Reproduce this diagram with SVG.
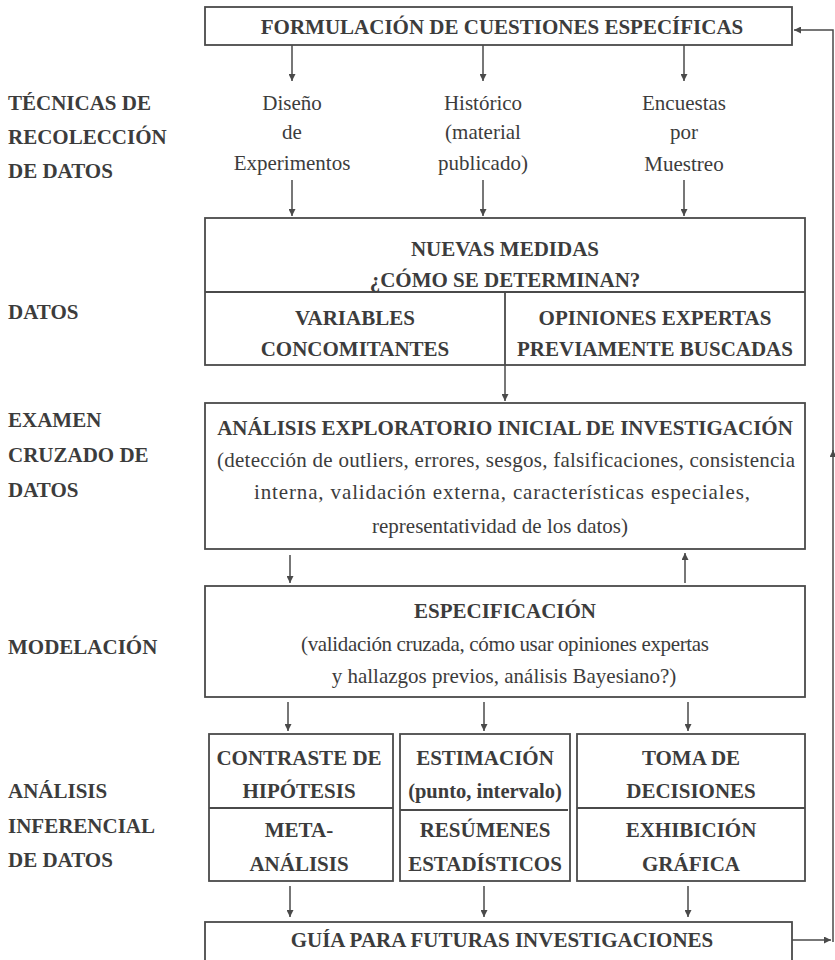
<svg xmlns="http://www.w3.org/2000/svg" width="835" height="960" viewBox="0 0 835 960">
<defs>
<marker id="ah" viewBox="0 0 10 10" refX="10" refY="5" markerWidth="7" markerHeight="7" markerUnits="userSpaceOnUse" orient="auto">
<path d="M0,0 L10,5 L0,10 z" fill="#4a4a4a"/>
</marker>
<style>
.b{font-weight:bold;font-size:21px}
.r{font-size:21px}
.c{text-anchor:middle}
.box{fill:#fff;stroke:#4a4a4a;stroke-width:1.8}
.div{stroke:#4a4a4a;stroke-width:1.8;fill:none}
.con{stroke:#4a4a4a;stroke-width:1.5;fill:none;marker-end:url(#ah)}
</style>
</defs>
<rect width="835" height="960" fill="#fff"/>
<g font-family="Liberation Serif, DejaVu Serif, Times New Roman, serif" fill="#3c3c3c">
<g id="labels">
<text class="b" x="8" y="110">TÉCNICAS DE</text>
<text class="b" x="8" y="144">RECOLECCIÓN</text>
<text class="b" x="8" y="178">DE DATOS</text>
<text class="b" x="8" y="319">DATOS</text>
<text class="b" x="8" y="427">EXAMEN</text>
<text class="b" x="8" y="462">CRUZADO DE</text>
<text class="b" x="8" y="497">DATOS</text>
<text class="b" x="8" y="654">MODELACIÓN</text>
<text class="b" x="8" y="798">ANÁLISIS</text>
<text class="b" x="8" y="833">INFERENCIAL</text>
<text class="b" x="8" y="867">DE DATOS</text>
</g>

<g id="formulacion">
<rect class="box" x="205" y="7" width="587" height="38"/>
<text class="b c" x="502" y="34">FORMULACIÓN DE CUESTIONES ESPECÍFICAS</text>
</g>

<g id="diseno">
<text class="r c" x="292" y="110">Diseño</text>
<text class="r c" x="292" y="139">de</text>
<text class="r c" x="292" y="170">Experimentos</text>
</g>
<g id="historico">
<text class="r c" x="483" y="110">Histórico</text>
<text class="r c" x="483" y="139">(material</text>
<text class="r c" x="483" y="170">publicado)</text>
</g>
<g id="encuestas">
<text class="r c" x="684" y="110">Encuestas</text>
<text class="r c" x="684" y="139">por</text>
<text class="r c" x="684" y="171">Muestreo</text>
</g>

<g id="nuevas">
<rect class="box" x="205" y="218" width="600" height="147"/>
<line class="div" x1="205" y1="292" x2="805" y2="292"/>
<line class="div" x1="505" y1="292" x2="505" y2="365"/>
<text class="b c" x="505" y="256">NUEVAS MEDIDAS</text>
<text class="b c" x="505" y="287">¿CÓMO SE DETERMINAN?</text>
<text class="b c" x="355" y="325">VARIABLES</text>
<text class="b c" x="355" y="356">CONCOMITANTES</text>
<text class="b c" x="655" y="325">OPINIONES EXPERTAS</text>
<text class="b c" x="655" y="356">PREVIAMENTE BUSCADAS</text>
</g>

<g id="analisis">
<rect class="box" x="205" y="403" width="600" height="146"/>
<text class="b c" x="505" y="435">ANÁLISIS EXPLORATORIO INICIAL DE INVESTIGACIÓN</text>
<text class="r c" x="506" y="467" textLength="578" lengthAdjust="spacing">(detección de outliers, errores, sesgos, falsificaciones, consistencia</text>
<text class="r c" x="502" y="499" textLength="496" lengthAdjust="spacing">interna, validación externa, características especiales,</text>
<text class="r c" x="500" y="533">representatividad de los datos)</text>
</g>

<g id="especificacion">
<rect class="box" x="205" y="586" width="600" height="111"/>
<text class="b c" x="505" y="618">ESPECIFICACIÓN</text>
<text class="r c" x="505" y="651" textLength="408" lengthAdjust="spacing">(validación cruzada, cómo usar opiniones expertas</text>
<text class="r c" x="504" y="683">y hallazgos previos, análisis Bayesiano?)</text>
</g>

<g id="contraste">
<rect class="box" x="209" y="734" width="184" height="147"/>
<line class="div" x1="209" y1="808" x2="393" y2="808"/>
<text class="b c" x="299" y="765">CONTRASTE DE</text>
<text class="b c" x="299" y="798">HIPÓTESIS</text>
<text class="b c" x="299" y="837">META-</text>
<text class="b c" x="299" y="871">ANÁLISIS</text>
</g>

<g id="estimacion">
<rect class="box" x="400" y="734" width="170" height="147"/>
<line class="div" x1="400" y1="810" x2="568" y2="810"/>
<text class="b c" x="485" y="765">ESTIMACIÓN</text>
<text class="b c" x="485" y="798" style="font-size:20.5px">(punto, intervalo)</text>
<text class="b c" x="485" y="837">RESÚMENES</text>
<text class="b c" x="485" y="871">ESTADÍSTICOS</text>
</g>

<g id="toma">
<rect class="box" x="577" y="734" width="228" height="147"/>
<line class="div" x1="577" y1="808" x2="805" y2="808"/>
<text class="b c" x="691" y="765">TOMA DE</text>
<text class="b c" x="691" y="798">DECISIONES</text>
<text class="b c" x="691" y="837">EXHIBICIÓN</text>
<text class="b c" x="691" y="871">GRÁFICA</text>
</g>

<g id="guia">
<rect class="box" x="205" y="922" width="587" height="50"/>
<text class="b c" x="502" y="947">GUÍA PARA FUTURAS INVESTIGACIONES</text>
</g>
</g>
<g id="connectors">
<line class="con" x1="292" y1="45" x2="292" y2="81"/>
<line class="con" x1="483" y1="45" x2="483" y2="81"/>
<line class="con" x1="684" y1="45" x2="684" y2="81"/>
<line class="con" x1="292" y1="180" x2="292" y2="216"/>
<line class="con" x1="483" y1="180" x2="483" y2="216"/>
<line class="con" x1="684" y1="180" x2="684" y2="216"/>
<line class="con" x1="505" y1="365" x2="505" y2="401"/>
<line class="con" x1="290" y1="555" x2="290" y2="583"/>
<line class="con" x1="685" y1="583" x2="685" y2="553"/>
<line class="con" x1="288" y1="702" x2="288" y2="731"/>
<line class="con" x1="484" y1="702" x2="484" y2="731"/>
<line class="con" x1="688" y1="702" x2="688" y2="731"/>
<line class="con" x1="290" y1="886" x2="290" y2="917"/>
<line class="con" x1="484" y1="886" x2="484" y2="917"/>
<line class="con" x1="688" y1="886" x2="688" y2="917"/>
<line class="con" x1="792" y1="940" x2="831" y2="940"/>
<line class="con" x1="833" y1="942" x2="833" y2="450"/>
<polyline class="con" points="833,455 833,30 794,30"/>
</g>
</svg>
